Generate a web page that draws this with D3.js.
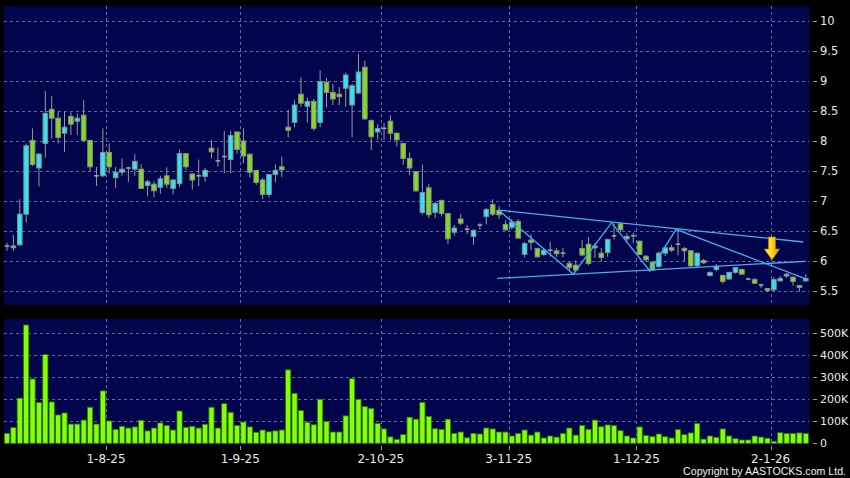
<!DOCTYPE html>
<html><head><meta charset="utf-8">
<script src="https://cdn.jsdelivr.net/npm/d3@7"></script>
<style>html,body{margin:0;padding:0;background:#000;} svg{display:block}</style>
</head><body><svg id="c" width="850" height="478"></svg>
<script>
// ---- data ----
const opens  = [6.25,6.22,6.27,6.78,8.01,7.55,7.96,8.53,8.38,8.13,8.41,8.33,8.43,8.01,7.42,7.42,7.81,7.39,7.48,7.55,
  7.53,7.53,7.26,7.28,7.23,7.42,7.21,7.29,7.79,7.45,7.42,7.41,7.88,7.67,7.74,7.69,8.15,8.00,7.78,7.51,
  7.35,7.11,7.44,7.57,8.23,8.31,8.78,8.58,8.66,8.31,8.98,8.81,8.78,8.88,8.60,8.80,9.23,8.34,8.15,8.21,
  8.33,8.13,7.96,7.71,7.49,6.81,7.22,6.81,7.01,6.79,6.48,6.70,6.53,6.41,6.60,6.74,6.94,6.84,6.61,6.56,
  6.66,6.11,6.35,6.21,6.11,6.18,6.17,6.13,5.96,5.93,6.21,6.28,6.22,6.13,6.14,6.42,6.62,6.37,6.42,6.33,
  6.08,5.98,5.91,6.13,6.22,6.28,6.21,6.17,5.92,6.01,5.76,5.86,5.76,5.70,5.81,5.86,5.70,5.69,5.60,5.54,
  5.52,5.67,5.75,5.73,5.59,5.67];
const highs  = [6.30,6.43,7.03,7.96,8.21,7.80,8.83,8.75,8.49,8.49,8.48,8.46,8.68,8.02,7.57,8.21,7.96,7.57,7.71,7.57,
  7.78,7.61,7.35,7.33,7.42,7.56,7.37,7.86,7.80,7.46,7.69,7.55,8.02,7.89,8.17,8.17,8.16,8.21,7.79,7.52,
  7.38,7.45,7.61,7.74,8.52,8.68,9.06,8.72,8.70,9.18,9.05,8.95,8.90,9.14,8.95,9.45,9.34,8.36,8.28,8.30,
  8.43,8.14,7.97,7.81,7.50,7.61,7.28,6.98,7.02,6.80,6.60,6.78,6.60,6.53,6.63,6.88,7.03,6.92,6.68,6.70,
  6.70,6.32,6.45,6.22,6.20,6.32,6.22,6.22,6.00,6.01,6.35,6.40,6.30,6.22,6.37,6.63,6.63,6.46,6.47,6.34,
  6.10,6.00,6.16,6.26,6.27,6.52,6.23,6.18,6.14,6.03,5.83,5.95,5.77,5.82,5.90,5.87,5.72,5.72,5.62,5.55,
  5.73,5.75,5.80,5.74,5.60,5.78];
const lows   = [6.17,6.17,6.25,6.64,7.58,7.24,7.72,8.04,7.96,7.82,8.10,8.10,8.00,7.49,7.25,7.40,7.46,7.22,7.42,7.32,
  7.42,7.20,7.08,7.06,7.12,7.22,7.11,7.23,7.52,7.19,7.25,7.32,7.71,7.57,7.46,7.46,7.79,7.63,7.39,7.27,
  7.03,7.06,7.31,7.40,8.06,8.23,8.57,8.31,8.17,8.23,8.56,8.60,8.60,8.57,8.06,8.78,8.35,7.85,8.02,8.02,
  8.02,7.91,7.60,7.43,7.15,6.77,6.72,6.72,6.74,6.28,6.42,6.60,6.45,6.27,6.52,6.61,6.75,6.70,6.50,6.52,
  6.38,6.06,6.18,6.05,6.08,6.07,6.07,6.06,5.85,5.81,6.08,5.93,6.05,5.99,6.07,6.36,6.48,6.30,6.30,6.10,
  5.98,5.83,5.88,6.08,6.15,6.10,6.00,5.90,5.88,5.95,5.74,5.83,5.62,5.69,5.79,5.77,5.68,5.62,5.55,5.48,
  5.49,5.65,5.72,5.59,5.49,5.65];
const closes = [6.25,6.25,6.78,7.92,7.61,7.78,8.46,8.38,8.06,8.23,8.28,8.38,8.01,7.57,7.42,7.81,7.57,7.48,7.53,7.55,
  7.66,7.21,7.32,7.17,7.37,7.28,7.35,7.79,7.57,7.35,7.42,7.51,7.82,7.67,7.74,8.09,7.86,7.75,7.48,7.31,
  7.11,7.44,7.51,7.52,8.18,8.60,8.63,8.66,8.21,8.99,8.81,8.70,8.74,9.10,8.92,9.15,8.37,8.07,8.21,8.21,
  8.13,8.02,7.71,7.55,7.17,7.14,6.77,6.96,6.79,6.37,6.55,6.63,6.53,6.51,6.60,6.86,6.78,6.77,6.52,6.65,
  6.38,6.29,6.31,6.07,6.18,6.18,6.12,6.13,5.89,5.85,6.10,5.96,6.25,6.06,6.36,6.42,6.52,6.41,6.42,6.11,
  6.02,5.85,6.13,6.22,6.18,6.28,6.17,5.92,6.13,5.97,5.81,5.91,5.66,5.81,5.89,5.78,5.70,5.63,5.60,5.51,
  5.69,5.71,5.78,5.66,5.56,5.71];
const volumes = [45,71,204,535,291,184,401,187,128,137,87,87,105,163,87,237,101,63,77,69,
  74,104,56,69,92,80,60,146,72,77,69,86,163,69,179,140,81,96,74,50,
  60,52,56,60,332,226,148,95,84,199,99,51,51,124,292,199,166,158,90,65,
  29,18,39,118,109,185,122,66,63,109,45,51,25,45,42,69,65,51,51,33,
  44,60,37,51,24,33,28,45,69,37,81,63,105,75,83,80,57,33,24,74,
  36,30,42,30,24,62,39,47,90,19,33,27,65,33,21,15,15,33,28,23,
  9,48,44,44,47,44].map(v => v * 1000);
const tickIndex  = [15, 36, 58, 78, 98, 119];
const tickLabels = ["1-8-25", "1-9-25", "2-10-25", "3-11-25", "1-12-25", "2-1-26"];
const priceTicks = [5.5, 6, 6.5, 7, 7.5, 8, 8.5, 9, 9.5, 10];
const priceTickLabels = ["5.5", "6", "6.5", "7", "7.5", "8", "8.5", "9", "9.5", "10"];
const volTicks = [0, 100000, 200000, 300000, 400000, 500000];
const volTickLabels = ["0", "100K", "200K", "300K", "400K", "500K"];
// annotation lines as [candle index, price]
const upperLine = [[76.8, 6.85], [124.6, 6.317]];
const lowerLine = [[76.7, 5.71], [125.0, 5.995]];
const zigzag = [[76.9, 6.85], [88.6, 5.783], [94.6, 6.638], [100.6, 5.833], [104.7, 6.528], [125.2, 5.695]];
const arrow = {index: 119.7, top: 6.40, tip: 6.02};

// ---- layout ----
const svg = d3.select("#c");
const L = 3.8, R = 809;
const pTop = 6, pBot = 305, vTop = 319, vBot = 444;
const n = opens.length;
const x = d3.scaleBand().domain(d3.range(n)).range([L, R]).padding(0);
const step = x.step();
const xc = i => x(i) + step / 2;
const xl = d3.scaleLinear().domain([-0.5, n - 0.5]).range([L, R]);
const y = d3.scaleLinear().domain([5.5, 10]).range([291, 21]);
const yv = d3.scaleLinear().domain([0, 500000]).range([443.3, 332.7]);

const bg = "#02044c", grid = "#5b6aa6";
svg.append("rect").attr("x", 0).attr("y", 0).attr("width", 850).attr("height", 478).attr("fill", "#000");
svg.append("rect").attr("x", L).attr("y", pTop).attr("width", R - L).attr("height", pBot - pTop).attr("fill", bg);
svg.append("rect").attr("x", L).attr("y", vTop).attr("width", R - L).attr("height", vBot - vTop).attr("fill", bg);

// grids
const gx = i => x(i) + step;
const gg = svg.append("g").attr("stroke", grid).attr("stroke-width", 1).attr("stroke-dasharray", "3,3").attr("shape-rendering", "crispEdges");
gg.selectAll(".hp").data(priceTicks).join("line").attr("x1", L).attr("x2", R)
  .attr("y1", d => Math.round(y(d)) + 0.5).attr("y2", d => Math.round(y(d)) + 0.5);
gg.selectAll(".hv").data(volTicks.slice(1)).join("line").attr("x1", L).attr("x2", R)
  .attr("y1", d => Math.round(yv(d)) + 0.5).attr("y2", d => Math.round(yv(d)) + 0.5);
gg.selectAll(".vp").data(tickIndex).join("line").attr("y1", pTop).attr("y2", pBot)
  .attr("x1", d => Math.round(gx(d)) + 0.5).attr("x2", d => Math.round(gx(d)) + 0.5);
gg.selectAll(".vv").data(tickIndex).join("line").attr("y1", vTop).attr("y2", vBot)
  .attr("x1", d => Math.round(gx(d)) + 0.5).attr("x2", d => Math.round(gx(d)) + 0.5);

// candles
const idx = d3.range(n);
const cg = svg.append("g");
cg.selectAll(".wick").data(idx).join("line")
  .attr("x1", i => xc(i)).attr("x2", i => xc(i))
  .attr("y1", i => y(highs[i])).attr("y2", i => y(lows[i]))
  .attr("stroke", "#9a9a9a").attr("stroke-width", 1);
const bw = 4.6;
cg.selectAll(".body").data(idx).join("rect")
  .attr("x", i => xc(i) - bw / 2).attr("width", bw)
  .attr("y", i => opens[i] === closes[i] ? y(opens[i]) - 0.8 : y(Math.max(opens[i], closes[i])))
  .attr("height", i => opens[i] === closes[i] ? 1.6 : Math.max(1.5, Math.abs(y(opens[i]) - y(closes[i]))))
  .attr("fill", i => closes[i] > opens[i] ? "#2ee6f2" : (closes[i] < opens[i] ? "#7fdc1e" : "#a0a0a0"))
  .attr("stroke", i => opens[i] === closes[i] ? "none" : "#8c8c8c").attr("stroke-width", 1);

// annotation lines
const line = d3.line().x(d => xl(d[0])).y(d => y(d[1]));
const ag = svg.append("g").attr("fill", "none").attr("stroke", "#45aef0").attr("stroke-width", 1.3);
[upperLine, lowerLine, zigzag].forEach(pts => ag.append("path").attr("d", line(pts)));

// arrow
const defs = svg.append("defs");
const grad = defs.append("linearGradient").attr("id", "ag").attr("x1", "0").attr("x2", "1").attr("y1", "0").attr("y2", "0");
grad.append("stop").attr("offset", "0").attr("stop-color", "#fff27a");
grad.append("stop").attr("offset", "0.5").attr("stop-color", "#ffd21a");
grad.append("stop").attr("offset", "1").attr("stop-color", "#e89a00");
const axc = xl(arrow.index), at = y(arrow.top), ap = y(arrow.tip);
const headY = at + (ap - at) * 0.53;
svg.append("path")
  .attr("d", `M${axc - 3.5},${at} L${axc + 3.5},${at} L${axc + 3.5},${headY} L${axc + 7.7},${headY} L${axc},${ap} L${axc - 7.7},${headY} L${axc - 3.5},${headY} Z`)
  .attr("fill", "url(#ag)").attr("stroke", "#b87800").attr("stroke-width", 0.8);

// volume bars
svg.append("g").selectAll("rect").data(idx).join("rect")
  .attr("x", i => xc(i) - 2.6).attr("width", 5.2)
  .attr("y", i => yv(volumes[i])).attr("height", i => yv(0) - yv(volumes[i]))
  .attr("fill", "#84ff0a").attr("stroke", "#2d7800").attr("stroke-width", 0.8);

// axes text
const tg = svg.append("g").attr("font-family", "DejaVu Sans, sans-serif").attr("fill", "#e8e8e8");
const ytick = svg.append("g").attr("stroke", "#9a9a9a").attr("stroke-width", 1);
ytick.selectAll(".a").data(priceTicks).join("line").attr("x1", 813).attr("x2", 817)
  .attr("y1", d => Math.round(y(d)) + 0.5).attr("y2", d => Math.round(y(d)) + 0.5);
ytick.selectAll(".b").data(volTicks).join("line").attr("x1", 813).attr("x2", 817)
  .attr("y1", d => Math.round(yv(d)) + 0.5).attr("y2", d => Math.round(yv(d)) + 0.5);
tg.selectAll(".pl").data(priceTicks).join("text").attr("x", 820).attr("y", d => y(d) + 4)
  .attr("font-size", 11.5).text((d, i) => priceTickLabels[i]);
tg.selectAll(".vl").data(volTicks).join("text").attr("x", 820).attr("y", d => yv(d) + 4)
  .attr("font-size", 11).text((d, i) => volTickLabels[i]);
ytick.selectAll(".c").data(tickIndex).join("line").attr("y1", 446).attr("y2", 450)
  .attr("x1", d => Math.round(gx(d)) + 0.5).attr("x2", d => Math.round(gx(d)) + 0.5);
tg.selectAll(".xl").data(tickIndex).join("text").attr("x", d => gx(d)).attr("y", 462.5)
  .attr("text-anchor", "middle").attr("font-size", 12).text((d, i) => tickLabels[i]);
svg.append("text").attr("x", 846).attr("y", 474.5).attr("text-anchor", "end")
  .attr("font-family", "Liberation Sans, sans-serif").attr("font-size", 10.6)
  .attr("fill", "#f0f0f0").text("Copyright by AASTOCKS.com Ltd.");
</script></body></html>
